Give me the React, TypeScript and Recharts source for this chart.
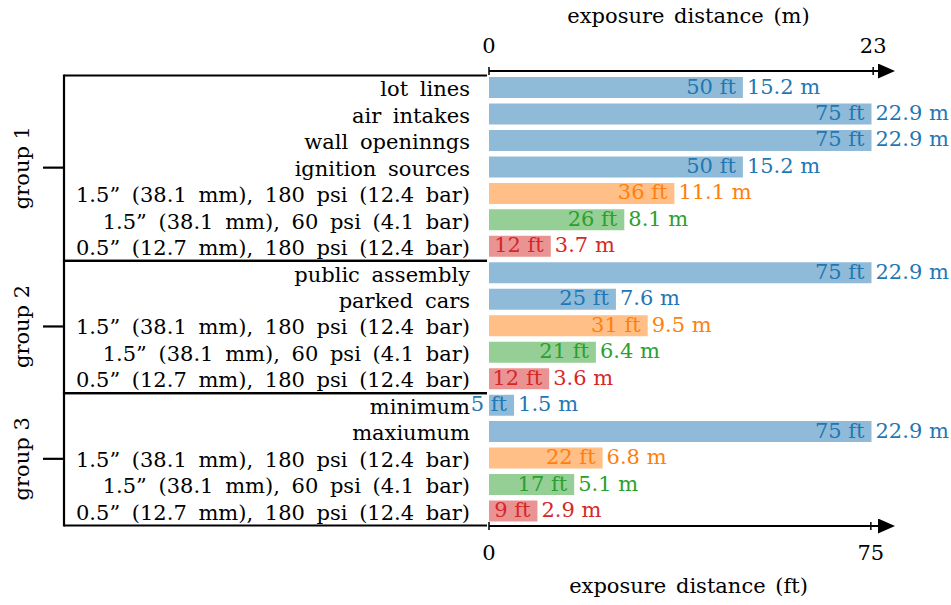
import { BarChart, Bar, XAxis, YAxis, Cell, LabelList } from "recharts";

const rowLabels = [
  "lot lines",
  "air intakes",
  "wall openinngs",
  "ignition sources",
  "1.5” (38.1 mm), 180 psi (12.4 bar)",
  "1.5” (38.1 mm), 60 psi (4.1 bar)",
  "0.5” (12.7 mm), 180 psi (12.4 bar)",
  "public assembly",
  "parked cars",
  "1.5” (38.1 mm), 180 psi (12.4 bar)",
  "1.5” (38.1 mm), 60 psi (4.1 bar)",
  "0.5” (12.7 mm), 180 psi (12.4 bar)",
  "minimum",
  "maxiumum",
  "1.5” (38.1 mm), 180 psi (12.4 bar)",
  "1.5” (38.1 mm), 60 psi (4.1 bar)",
  "0.5” (12.7 mm), 180 psi (12.4 bar)",
];
const rowKinds = [
  "exp", "exp", "exp", "exp", "big", "mid", "small",
  "exp", "exp", "big", "mid", "small",
  "exp", "exp", "big", "mid", "small",
];
const distFt = [50, 75, 75, 50, 36, 26, 12, 75, 25, 31, 21, 12, 5, 75, 22, 17, 9];
const distM = [15.2, 22.9, 22.9, 15.2, 11.1, 8.1, 3.7, 22.9, 7.6, 9.5, 6.4, 3.6, 1.5, 22.9, 6.8, 5.1, 2.9];
const groupNames = ["group 1", "group 2", "group 3"];
const groupSizes = [7, 5, 5];
const ftTicks = [0, 75];
const mTicks = [0, 23];

const kindColors: Record<string, string> = {
  exp: "#1f77b4",
  big: "#ff7f0e",
  mid: "#2ca02c",
  small: "#d62728",
};

const FT_MAX = 76.8;
const M_MAX = FT_MAX * 0.3048;
const FONT = "'DejaVu Serif', serif";

const rows = rowLabels.map((label, i) => ({
  key: `r${i}`,
  label,
  ft: distFt[i],
  m: distM[i],
  kind: rowKinds[i],
}));

const groupStarts: number[] = [];
groupSizes.reduce((acc, n) => {
  groupStarts.push(acc);
  return acc + n;
}, 0);

function RowTick(props: any) {
  const { x, y, index, payload } = props;
  const half = payload && payload.offset ? payload.offset : 13.25;
  const row = rows[index];
  const gi = groupStarts.indexOf(index);
  let bracket = null;
  if (gi >= 0) {
    const bandTop = y - half;
    const bandBottom = bandTop + groupSizes[gi] * half * 2;
    const top = bandTop + 1.5;
    const bottom = bandBottom + 1.5;
    const mid = (bandTop + bandBottom) / 2 + 1;
    bracket = (
      <g stroke="#000" strokeWidth={2.2}>
        <line x1={64} x2={487} y1={top} y2={top} />
        <line x1={64} x2={487} y1={bottom} y2={bottom} />
        <line x1={64} x2={64} y1={top - 1} y2={bottom + 1} />
        <line x1={43} x2={64} y1={mid} y2={mid} />
        <text
          x={29}
          y={mid}
          transform={`rotate(-90, 29, ${mid})`}
          textAnchor="middle"
          stroke="none"
          fill="#000"
          fontFamily={FONT}
          fontSize={21}
        >
          {groupNames[gi]}
        </text>
      </g>
    );
  }
  return (
    <g>
      <text
        x={x}
        y={y + 9}
        textAnchor="end"
        fill="#000"
        fontFamily={FONT}
        fontSize={21}
        style={{ wordSpacing: 5 }}
      >
        {row ? row.label : ""}
      </text>
      {bracket}
    </g>
  );
}

function AxisTick(props: any) {
  const { x, y, payload, side } = props;
  const ty = side === "top" ? y - 18 : y + 34;
  return (
    <g>
      <line x1={x} x2={x} y1={y - 4} y2={y + 4} stroke="#000" strokeWidth={1.5} />
      <text x={x} y={ty} textAnchor="middle" fill="#000" fontFamily={FONT} fontSize={21}>
        {payload.value}
      </text>
    </g>
  );
}

function AxisTitle(props: any, text: string, dy: number) {
  const vb = props.viewBox || {};
  return (
    <text
      x={(vb.x ?? 489) + (vb.width ?? 391) / 2 + 4}
      y={(vb.y ?? 0) + dy}
      textAnchor="middle"
      fill="#000"
      fontFamily={FONT}
      fontSize={21}
      style={{ wordSpacing: 3 }}
    >
      {text}
    </text>
  );
}

function ValueLabels(props: any) {
  const { x, y, width, height, value } = props;
  const row = rows.find((r) => r.key === value);
  if (!row) return null;
  const color = kindColors[row.kind];
  const end = x + width;
  const base = y + height / 2 + 6;
  return (
    <g fontFamily={FONT} fontSize={21} fill={color}>
      <text x={end - 7} y={base} textAnchor="end">
        {row.ft} ft
      </text>
      <text x={end + 4} y={base}>
        {row.m.toFixed(1)} m
      </text>
    </g>
  );
}

export default function App() {
  return (
    <div style={{ position: "absolute", left: 0, top: 0, width: 951, height: 605, background: "#fff" }}>
      <BarChart
        width={951}
        height={605}
        data={rows}
        layout="vertical"
        margin={{ top: 0, right: 71, bottom: 0, left: 0 }}
      >
        <defs>
          <marker
            id="axisArrow"
            markerUnits="userSpaceOnUse"
            markerWidth={20}
            markerHeight={16}
            refX={2}
            refY={7.5}
            orient="auto"
          >
            <path d="M0,0 L17,7.5 L0,15 z" fill="#000" />
          </marker>
        </defs>
        <XAxis
          xAxisId="m"
          orientation="top"
          type="number"
          domain={[0, M_MAX]}
          allowDataOverflow
          ticks={mTicks}
          height={71}
          tickSize={0}
          tickMargin={0}
          tickLine={false}
          axisLine={{ stroke: "#000", strokeWidth: 2, markerEnd: "url(#axisArrow)" }}
          tick={(p: any) => <AxisTick {...p} side="top" />}
          label={{ value: "exposure distance (m)", content: (p: any) => AxisTitle(p, "exposure distance (m)", 23) }}
        />
        <XAxis
          xAxisId="ft"
          orientation="bottom"
          type="number"
          domain={[0, FT_MAX]}
          allowDataOverflow
          ticks={ftTicks}
          height={79}
          tickSize={0}
          tickMargin={0}
          tickLine={false}
          axisLine={{ stroke: "#000", strokeWidth: 2, markerEnd: "url(#axisArrow)" }}
          tick={(p: any) => <AxisTick {...p} side="bottom" />}
          label={{ value: "exposure distance (ft)", content: (p: any) => AxisTitle(p, "exposure distance (ft)", 67) }}
        />
        <YAxis
          type="category"
          dataKey="key"
          width={489}
          padding={{ top: 3, bottom: 2 }}
          axisLine={false}
          tickLine={false}
          tickSize={0}
          tickMargin={19}
          interval={0}
          tick={(p: any) => <RowTick {...p} />}
        />
        <Bar xAxisId="m" dataKey="m" barSize={21} isAnimationActive={false}>
          {rows.map((r) => (
            <Cell key={r.key} fill={kindColors[r.kind]} fillOpacity={0.5} />
          ))}
          <LabelList dataKey="key" content={(p: any) => <ValueLabels {...p} />} />
        </Bar>
      </BarChart>
    </div>
  );
}
